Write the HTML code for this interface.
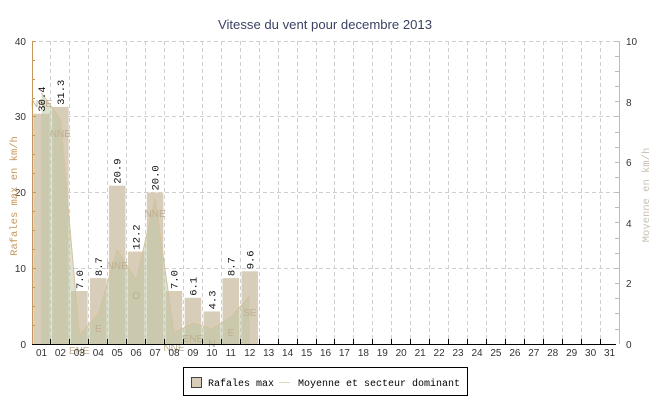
<!DOCTYPE html>
<html><head><meta charset="utf-8"><style>
html,body{margin:0;padding:0;background:#fff;width:650px;height:400px;overflow:hidden}
svg{display:block}
</style></head><body>
<svg width="650" height="400" viewBox="0 0 650 400" xmlns="http://www.w3.org/2000/svg">
<rect x="0" y="0" width="650" height="400" fill="#fff"/>
<text x="325" y="29" text-anchor="middle" font-family="Liberation Sans, sans-serif" font-size="12.5" fill="#3b4263" textLength="214" lengthAdjust="spacingAndGlyphs">Vitesse du vent pour decembre 2013</text>

<!-- grid -->
<g stroke="#cfcfcf" stroke-width="1" stroke-dasharray="4,3" fill="none" shape-rendering="crispEdges">
<path d="M32 41.5H619 M32 116.5H619 M32 192.5H619 M32 268.5H619"/>
<path d="M50.5 41V344 M69.5 41V344 M88.5 41V344 M107.5 41V344 M126.5 41V344 M145.5 41V344 M164.5 41V344 M183.5 41V344 M202.5 41V344 M221.5 41V344 M240.5 41V344 M259.5 41V344 M278.5 41V344 M297.5 41V344 M316.5 41V344 M334.5 41V344 M353.5 41V344 M372.5 41V344 M391.5 41V344 M410.5 41V344 M429.5 41V344 M448.5 41V344 M467.5 41V344 M486.5 41V344 M505.5 41V344 M524.5 41V344 M543.5 41V344 M562.5 41V344 M581.5 41V344 M600.5 41V344"/>
</g>

<!-- bars -->
<g fill="#d8cdb9">
<rect x="33.22" y="113.72" width="16.5" height="230.28"/>
<rect x="52.15" y="106.90" width="16.5" height="237.10"/>
<rect x="71.09" y="290.97" width="16.5" height="53.03"/>
<rect x="90.02" y="278.10" width="16.5" height="65.90"/>
<rect x="108.96" y="185.68" width="16.5" height="158.32"/>
<rect x="127.90" y="251.58" width="16.5" height="92.42"/>
<rect x="146.83" y="192.50" width="16.5" height="151.50"/>
<rect x="165.77" y="290.97" width="16.5" height="53.03"/>
<rect x="184.70" y="297.79" width="16.5" height="46.21"/>
<rect x="203.64" y="311.43" width="16.5" height="32.57"/>
<rect x="222.57" y="278.10" width="16.5" height="65.90"/>
<rect x="241.51" y="271.28" width="16.5" height="72.72"/>
</g>

<!-- area -->
<path d="M41.47 344 L41.47 93 L60.40 119 L79.34 335 L98.27 314 L117.21 250 L136.15 280 L155.08 199 L174.02 333 L192.95 323 L211.89 329 L230.82 317 L249.76 296 L249.76 344 Z" fill="rgb(188,198,162)" fill-opacity="0.5"/>
<polyline points="41.47,93 60.40,119 79.34,335 98.27,314 117.21,250 136.15,280 155.08,199 174.02,333 192.95,323 211.89,329 230.82,317 249.76,296" fill="none" stroke="#d6c29c" stroke-width="1"/>

<!-- direction labels -->
<g font-family="Liberation Sans, sans-serif" font-size="10" fill="#bfae92" text-anchor="middle">
<text x="41.5" y="107">NNE</text>
<text x="60.4" y="137">NNE</text>
<text x="79.3" y="354">ENE</text>
<text x="98.3" y="332">E</text>
<text x="117.2" y="269">NNE</text>
<text x="136.1" y="299">O</text>
<text x="155.1" y="217">NNE</text>
<text x="174.0" y="351">NNE</text>
<text x="192.9" y="342">ENE</text>
<text x="211.9" y="347">N</text>
<text x="230.8" y="336">E</text>
<text x="249.8" y="316">SE</text>
</g>

<!-- value labels -->
<g font-family="Liberation Mono, monospace" font-size="10.5" fill="#111">
<text transform="translate(45,111.7) rotate(-90)">30.4</text>
<text transform="translate(63.9,104.9) rotate(-90)">31.3</text>
<text transform="translate(82.8,289) rotate(-90)">7.0</text>
<text transform="translate(101.8,276.1) rotate(-90)">8.7</text>
<text transform="translate(120.7,183.7) rotate(-90)">20.9</text>
<text transform="translate(139.6,249.6) rotate(-90)">12.2</text>
<text transform="translate(158.6,190.5) rotate(-90)">20.0</text>
<text transform="translate(177.5,289) rotate(-90)">7.0</text>
<text transform="translate(196.4,295.8) rotate(-90)">6.1</text>
<text transform="translate(215.4,309.4) rotate(-90)">4.3</text>
<text transform="translate(234.3,276.1) rotate(-90)">8.7</text>
<text transform="translate(253.3,269.3) rotate(-90)">9.6</text>
</g>

<!-- left axis -->
<g stroke="#c8965a" stroke-width="1" shape-rendering="crispEdges">
<path d="M32.5 41V344"/>
<path d="M32 41.5H36 M32 60.5H35 M32 79.5H35 M32 98.5H35 M32 116.5H36 M32 135.5H35 M32 154.5H35 M32 173.5H35 M32 192.5H36 M32 211.5H35 M32 230.5H35 M32 249.5H35 M32 268.5H36 M32 287.5H35 M32 306.5H35 M32 325.5H35"/>
</g>
<g font-family="Liberation Sans, sans-serif" font-size="10" fill="#333" text-anchor="end">
<text x="26" y="45">40</text>
<text x="26" y="120">30</text>
<text x="26" y="196">20</text>
<text x="26" y="272">10</text>
<text x="26" y="348">0</text>
</g>
<text transform="translate(17,196) rotate(-90)" text-anchor="middle" font-family="Liberation Mono, monospace" font-size="10.5" fill="#c8965a">Rafales max en km/h</text>

<!-- right axis -->
<g stroke="#c4bbab" stroke-width="1" shape-rendering="crispEdges">
<path d="M619.5 41V344"/>
<path d="M615 41.5H619 M615 56.5H619 M615 71.5H619 M615 86.5H619 M615 101.5H619 M615 116.5H619 M615 132.5H619 M615 147.5H619 M615 162.5H619 M615 177.5H619 M615 192.5H619 M615 207.5H619 M615 222.5H619 M615 238.5H619 M615 253.5H619 M615 268.5H619 M615 283.5H619 M615 298.5H619 M615 313.5H619 M615 329.5H619"/>
</g>
<g font-family="Liberation Sans, sans-serif" font-size="10" fill="#333">
<text x="626" y="45">10</text>
<text x="626" y="106">8</text>
<text x="626" y="166">6</text>
<text x="626" y="227">4</text>
<text x="626" y="287">2</text>
<text x="626" y="348">0</text>
</g>
<text transform="translate(649,195) rotate(-90)" text-anchor="middle" font-family="Liberation Mono, monospace" font-size="10.5" fill="#c8c0b0">Moyenne en km/h</text>

<!-- bottom axis -->
<g stroke="#000" stroke-width="1" shape-rendering="crispEdges">
<path d="M32 344.5H616"/>
<path d="M50.5 339V344 M69.5 339V344 M88.5 339V344 M107.5 339V344 M126.5 339V344 M145.5 339V344 M164.5 339V344 M183.5 339V344 M202.5 339V344 M221.5 339V344 M240.5 339V344 M259.5 339V344 M278.5 339V344 M297.5 339V344 M316.5 339V344 M334.5 339V344 M353.5 339V344 M372.5 339V344 M391.5 339V344 M410.5 339V344 M429.5 339V344 M448.5 339V344 M467.5 339V344 M486.5 339V344 M505.5 339V344 M524.5 339V344 M543.5 339V344 M562.5 339V344 M581.5 339V344 M600.5 339V344"/>
</g>
<g font-family="Liberation Sans, sans-serif" font-size="10" fill="#333" text-anchor="middle">
<text x="41.5" y="356">01</text><text x="60.4" y="356">02</text><text x="79.3" y="356">03</text><text x="98.3" y="356">04</text><text x="117.2" y="356">05</text><text x="136.1" y="356">06</text><text x="155.1" y="356">07</text><text x="174.0" y="356">08</text><text x="192.9" y="356">09</text><text x="211.9" y="356">10</text><text x="230.8" y="356">11</text><text x="249.8" y="356">12</text><text x="268.7" y="356">13</text><text x="287.6" y="356">14</text><text x="306.6" y="356">15</text><text x="325.5" y="356">16</text><text x="344.4" y="356">17</text><text x="363.4" y="356">18</text><text x="382.3" y="356">19</text><text x="401.2" y="356">20</text><text x="420.2" y="356">21</text><text x="439.1" y="356">22</text><text x="458.0" y="356">23</text><text x="477.0" y="356">24</text><text x="495.9" y="356">25</text><text x="514.9" y="356">26</text><text x="533.8" y="356">27</text><text x="552.7" y="356">28</text><text x="571.7" y="356">29</text><text x="590.6" y="356">30</text><text x="609.5" y="356">31</text>
</g>

<!-- legend -->
<rect x="183.5" y="367.5" width="284" height="28" fill="#fff" stroke="#000" stroke-width="1" shape-rendering="crispEdges"/>
<rect x="191.5" y="377.5" width="10" height="10" fill="#d8cdb9" stroke="#444" stroke-width="1" shape-rendering="crispEdges"/>
<text x="208" y="386" font-family="Liberation Mono, monospace" font-size="10" fill="#000">Rafales max</text>
<path d="M279 382.5H290" stroke="#e2d8c2" stroke-width="1"/>
<text x="298" y="386" font-family="Liberation Mono, monospace" font-size="10" fill="#000">Moyenne et secteur dominant</text>
</svg>
</body></html>
